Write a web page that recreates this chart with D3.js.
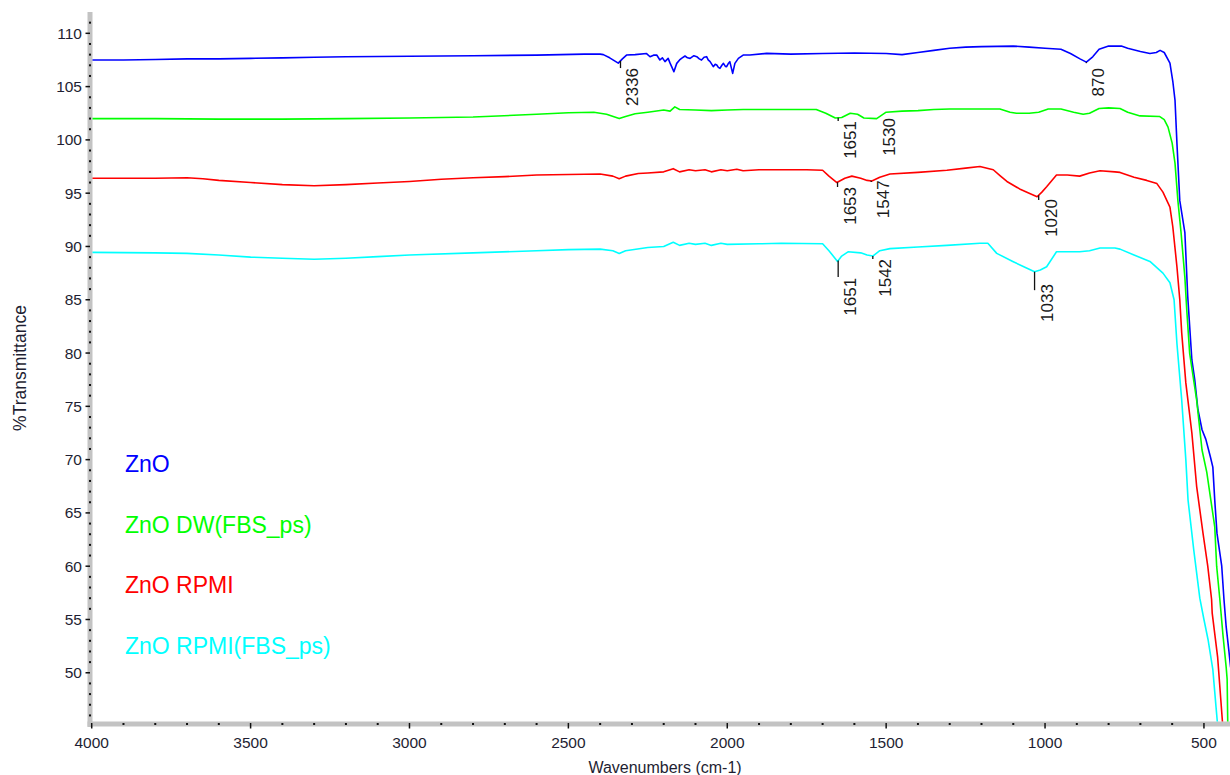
<!DOCTYPE html>
<html>
<head>
<meta charset="utf-8">
<script src="https://cdn.jsdelivr.net/npm/d3@7"></script>
<style>
html,body{margin:0;padding:0;background:#fff;}
svg{display:block;font-family:"Liberation Sans",Arial,sans-serif;}
</style>
</head>
<body>
<svg id="chart" width="1230" height="775"></svg>
<script>
// ---------- DATA ----------
const seriesNames = ["ZnO", "ZnO DW(FBS_ps)", "ZnO RPMI", "ZnO RPMI(FBS_ps)"];
const seriesColors = ["#0000ff", "#00ff00", "#ff0000", "#00ffff"];

const xTicks = [4000, 3500, 3000, 2500, 2000, 1500, 1000, 500];
const yTicks = [50, 55, 60, 65, 70, 75, 80, 85, 90, 95, 100, 105, 110];

// [wavenumber, %T]
const znO = [
 [4000,107.5],[3900,107.5],[3800,107.55],[3700,107.6],[3600,107.6],[3500,107.65],[3400,107.7],
 [3300,107.75],[3200,107.8],[3000,107.85],[2800,107.9],[2600,107.95],[2450,108.05],[2400,108.05],
 [2390,108.0],[2370,107.7],[2343,107.2],[2330,107.6],[2317,107.96],[2290,108.0],[2254,108.1],
 [2243,107.8],[2232,107.95],[2222,107.96],[2212,107.5],[2204,107.7],[2196,107.34],[2186,107.65],
 [2180,107.2],[2175,106.87],[2168,106.4],[2159,107.18],[2150,107.5],[2144,107.65],[2133,107.87],
 [2125,107.7],[2117,107.65],[2105,107.9],[2096,107.81],[2088,107.6],[2081,107.49],[2073,107.75],
 [2065,107.81],[2060,107.5],[2054,107.34],[2044,106.87],[2038,107.1],[2033,107.03],[2028,106.8],
 [2023,106.71],[2017,107.0],[2012,107.18],[2006,106.9],[2002,106.87],[1996,107.2],[1992,107.34],
 [1983,106.24],[1976,107.18],[1965,107.65],[1950,107.96],[1929,107.96],[1876,108.12],
 [1800,108.05],[1700,108.1],[1600,108.15],[1500,108.1],[1450,108.0],[1400,108.2],[1350,108.4],
 [1300,108.6],[1250,108.7],[1200,108.75],[1100,108.8],[1050,108.7],[1000,108.6],[950,108.5],
 [920,108.1],[890,107.6],[870,107.3],[850,107.8],[830,108.5],[800,108.8],[760,108.8],[740,108.6],
 [700,108.3],[670,108.1],[650,108.2],[638,108.4],[625,108.2],[607,107.2],[598,105.5],[591,103.7],
 [585,99.7],[576,94.3],[560,91.3],[551,85.3],[538,79.35],[529,77.5],[519,74.7],[506,72.8],
 [494,71.9],[480,70.3],[472,69.3],[466,66.2],[459,63.1],[444,60.0],[437,56.9],[430,54.3],
 [422,52.2],[416,50.5]
];
const znODW = [
 [4000,102.0],[3800,102.0],[3600,101.95],[3400,101.95],[3200,102.0],[3000,102.05],[2800,102.15],
 [2600,102.4],[2500,102.55],[2420,102.6],[2380,102.4],[2340,102.0],[2320,102.2],[2290,102.45],
 [2250,102.6],[2200,102.8],[2180,102.7],[2165,103.1],[2150,102.85],[2100,102.8],[2050,102.75],
 [2000,102.8],[1950,102.85],[1800,102.85],[1720,102.85],[1690,102.5],[1660,102.05],[1640,102.1],
 [1613,102.5],[1590,102.4],[1570,102.05],[1530,102.0],[1515,102.3],[1500,102.6],[1450,102.7],
 [1400,102.75],[1350,102.85],[1300,102.9],[1142,102.9],[1110,102.6],[1090,102.5],[1050,102.5],
 [1020,102.6],[990,102.9],[950,102.9],[910,102.6],[880,102.4],[860,102.5],[830,102.95],
 [800,103.0],[764,102.95],[740,102.6],[701,102.25],[640,102.2],[625,101.9],[613,101.2],
 [600,99.7],[591,97.8],[582,94.3],[572,91.3],[560,87.1],[554,84.0],[545,80.0],[523,75.6],
 [506,70.9],[491,68.8],[466,63.7],[460,60.0],[450,56.9],[440,53.5],[430,50.5],[427,49.4],
 [425,45.1],[423,43.0]
];
const znORPMI = [
 [4000,96.4],[3800,96.4],[3700,96.45],[3650,96.35],[3600,96.2],[3500,96.0],[3400,95.8],
 [3300,95.7],[3200,95.8],[3100,95.95],[3000,96.1],[2900,96.3],[2800,96.45],[2700,96.55],
 [2600,96.7],[2500,96.75],[2400,96.8],[2360,96.6],[2340,96.35],[2320,96.6],[2280,96.85],
 [2250,96.9],[2200,97.0],[2170,97.3],[2150,97.0],[2120,97.2],[2100,97.1],[2070,97.2],[2050,97.0],
 [2020,97.2],[2000,97.1],[1970,97.25],[1950,97.1],[1900,97.2],[1750,97.2],[1700,97.15],[1680,96.6],
 [1655,96.0],[1630,96.4],[1608,96.6],[1580,96.4],[1560,96.2],[1545,96.15],[1520,96.5],[1488,96.8],
 [1400,96.95],[1309,97.15],[1250,97.35],[1205,97.5],[1163,97.2],[1140,96.6],[1120,96.1],
 [1080,95.4],[1050,95.0],[1025,94.66],[1010,95.1],[995,95.6],[964,96.7],[930,96.7],[891,96.6],
 [860,96.9],[827,97.1],[780,97.0],[764,96.95],[720,96.5],[680,96.2],[648,95.9],[629,95.1],
 [607,93.7],[598,91.85],[585,88.1],[576,85.0],[570,81.9],[557,77.2],[538,72.5],[523,67.5],
 [503,63.1],[488,60.0],[476,56.9],[474,55.6],[457,51.5],[441,45.1],[438,43.0]
];
const znORPMIFBS = [
 [4000,89.45],[3800,89.4],[3700,89.35],[3600,89.2],[3500,89.0],[3400,88.9],[3300,88.8],
 [3200,88.9],[3100,89.05],[3000,89.2],[2800,89.4],[2600,89.6],[2500,89.7],[2400,89.75],
 [2360,89.6],[2340,89.35],[2320,89.6],[2250,89.9],[2200,90.0],[2170,90.4],[2150,90.1],
 [2120,90.3],[2100,90.2],[2070,90.3],[2050,90.1],[2020,90.3],[2000,90.2],[1900,90.25],
 [1830,90.3],[1700,90.25],[1680,89.6],[1653,88.6],[1640,89.1],[1620,89.5],[1580,89.4],
 [1560,89.2],[1542,89.1],[1520,89.6],[1488,89.8],[1400,89.95],[1309,90.1],[1205,90.3],
 [1180,90.3],[1152,89.35],[1100,88.57],[1060,88.0],[1033,87.63],[1015,87.8],[995,88.1],
 [964,89.5],[891,89.5],[860,89.6],[827,89.85],[780,89.85],[764,89.75],[720,89.2],[670,88.6],
 [629,87.5],[607,86.6],[594,85.0],[585,80.9],[570,75.6],[557,70.0],[550,66.2],[532,61.5],
 [513,57.0],[500,55.0],[487,53.1],[472,50.3],[462,46.8],[457,45.1],[454,43.0]
];
const seriesData = [znO, znODW, znORPMI, znORPMIFBS];

// peak annotations: wavenumber, series index, %T where tick ends, %T where text starts
const peakWn     = [2336, 870, 1651, 1530, 1653, 1547, 1020, 1651, 1542, 1033];
const peakSeries = [0, 0, 1, 1, 2, 2, 2, 3, 3, 3];
const peakTickEnd= [106.74, 107.2, 101.77, 102.0, 95.58, 96.05, 94.36, 87.14, 88.83, 85.9];
const peakTextTop= [106.74, 106.74, 101.77, 102.05, 95.58, 96.2, 94.45, 87.05, 88.83, 86.47];

// ---------- CHART ----------
const svg = d3.select("#chart");
const x = d3.scaleLinear().domain([4000, 418]).range([91.7, 1230]);
const y = d3.scaleLinear().domain([45.1, 112]).range([725, 12]);

const axisGray = "#c3c3c3";
const textCol = "#1e1e32";

svg.append("defs").append("clipPath").attr("id","plotclip")
  .append("rect").attr("x", 92.5).attr("y", 12).attr("width", 1230-92.5).attr("height", 721.5-12);

// axis bands
svg.append("rect").attr("x", 87.5).attr("y", 12).attr("width", 5).attr("height", 727-12).attr("fill", axisGray);
svg.append("rect").attr("x", 87.5).attr("y", 721.5).attr("width", 1230-87.5).attr("height", 5).attr("fill", axisGray);

// y ticks
const yMinor = d3.range(46, 112, 1).filter(v => v % 5 !== 0);
svg.append("g").selectAll("rect").data(yMinor).join("rect")
  .attr("x", 89).attr("y", d => y(d) - 1).attr("width", 2).attr("height", 2).attr("fill", "#111");
svg.append("g").selectAll("line").data(yTicks).join("line")
  .attr("x1", 85.5).attr("x2", 90).attr("y1", d => y(d)).attr("y2", d => y(d))
  .attr("stroke", "#111").attr("stroke-width", 1.5);
svg.append("g").selectAll("text").data(yTicks).join("text")
  .attr("x", 82).attr("y", d => y(d) + 5.5).attr("text-anchor", "end")
  .attr("font-size", 15.5).attr("fill", textCol).text(d => d);

// x ticks
const xMinor = d3.range(400, 4000, 100).filter(v => v % 500 !== 0 && x(v) <= 1229);
svg.append("g").selectAll("rect").data(xMinor).join("rect")
  .attr("x", d => x(d) - 1).attr("y", 723).attr("width", 2).attr("height", 2).attr("fill", "#111");
svg.append("g").selectAll("line").data(xTicks).join("line")
  .attr("x1", d => x(d)).attr("x2", d => x(d)).attr("y1", 723).attr("y2", 728.5)
  .attr("stroke", "#111").attr("stroke-width", 1.5);
svg.append("g").selectAll("text").data(xTicks).join("text")
  .attr("x", d => x(d)).attr("y", 747.5).attr("text-anchor", "middle")
  .attr("font-size", 15.5).attr("fill", textCol).text(d => d);

// axis titles
svg.append("text").attr("transform", "translate(26,368) rotate(-90)")
  .attr("text-anchor", "middle").attr("font-size", 17.5).attr("fill", textCol).text("%Transmittance");
svg.append("text").attr("x", 665).attr("y", 773).attr("text-anchor", "middle")
  .attr("font-size", 16).attr("fill", textCol).text("Wavenumbers (cm-1)");

// lines
const line = d3.line().x(d => x(d[0])).y(d => y(d[1]));
const gLines = svg.append("g").attr("clip-path", "url(#plotclip)");
seriesData.forEach((s, i) => {
  gLines.append("path").datum(s).attr("d", line)
    .attr("fill", "none").attr("stroke", seriesColors[i]).attr("stroke-width", 1.6)
    .attr("stroke-linejoin", "round");
});

// peak annotations
function valueAt(s, wn) {
  for (let k = 0; k < s.length - 1; k++) {
    const a = s[k], b = s[k + 1];
    if (wn <= a[0] && wn >= b[0]) {
      const t = (a[0] - wn) / (a[0] - b[0]);
      return a[1] + t * (b[1] - a[1]);
    }
  }
  return s[s.length - 1][1];
}
const gPeaks = svg.append("g");
peakWn.forEach((wn, i) => {
  const s = seriesData[peakSeries[i]];
  const px = x(wn);
  const py = y(valueAt(s, wn));
  gPeaks.append("line").attr("x1", px).attr("x2", px).attr("y1", py).attr("y2", y(peakTickEnd[i]))
    .attr("stroke", "#111").attr("stroke-width", 1.3);
  gPeaks.append("text")
    .attr("transform", `translate(${px + 18},${y(peakTextTop[i])}) rotate(-90)`)
    .attr("text-anchor", "end").attr("font-size", 17).attr("fill", "#1a1a1a").text(wn);
});

// legend
const legendBase = [472, 533, 593, 654];
svg.append("g").selectAll("text").data(seriesNames).join("text")
  .attr("x", 125).attr("y", (d, i) => legendBase[i])
  .attr("font-size", 23).attr("fill", (d, i) => seriesColors[i]).text(d => d);
</script>
</body>
</html>
